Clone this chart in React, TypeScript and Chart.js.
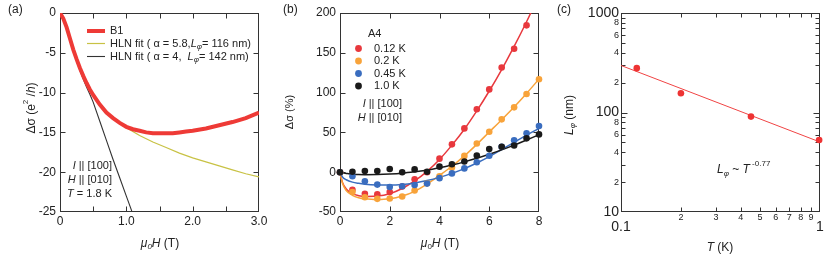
import React, { useEffect, useRef } from 'react';
import { Chart, registerables } from 'chart.js';
Chart.register(...registerables);

const FONT = '"Liberation Sans", Arial, Helvetica, sans-serif';
const TXT = '#222';
const FRAME = '#333';

// ---------- Panel (a) ----------
const aFieldB1 = [0, 0.05, 0.1, 0.15, 0.2, 0.25, 0.3, 0.35, 0.4, 0.45, 0.5, 0.6, 0.7, 0.8, 0.9, 1.0, 1.1, 1.2, 1.3, 1.4, 1.5, 1.6, 1.7, 1.8, 1.9, 2.0, 2.2, 2.4, 2.6, 2.8, 3.0];
const aB1 = [0, -0.7, -1.8, -3.2, -4.6, -5.8, -6.9, -7.9, -8.8, -9.6, -10.3, -11.5, -12.5, -13.2, -13.8, -14.3, -14.6, -14.8, -15.0, -15.1, -15.1, -15.1, -15.1, -15.0, -14.9, -14.8, -14.5, -14.1, -13.7, -13.2, -12.5];
const aFieldFit1 = [0, 0.05, 0.1, 0.15, 0.2, 0.25, 0.3, 0.35, 0.4, 0.45, 0.5, 0.6, 0.7, 0.8, 0.9, 1.0, 1.2, 1.4, 1.6, 1.8, 2.0, 2.2, 2.4, 2.6, 2.8, 3.0];
const aFit1 = [0, -0.7, -1.8, -3.2, -4.6, -5.8, -6.9, -7.9, -8.8, -9.6, -10.3, -11.5, -12.5, -13.3, -13.9, -14.4, -15.4, -16.2, -16.9, -17.6, -18.2, -18.7, -19.2, -19.7, -20.2, -20.6];
const aFieldFit2 = [0, 0.05, 0.1, 0.15, 0.2, 0.25, 0.3, 0.35, 0.4, 0.45, 0.5, 0.6, 0.7, 0.8, 0.9, 1.0, 1.1];
const aFit2 = [0, -0.7, -1.8, -3.2, -4.7, -6.0, -7.2, -8.3, -9.3, -10.2, -11.2, -13.6, -16.0, -18.4, -20.7, -23.0, -25.3];

// ---------- Panel (b) ----------
const bField = [0, 0.5, 1, 1.5, 2, 2.5, 3, 3.5, 4, 4.5, 5, 5.5, 6, 6.5, 7, 7.5, 8];
const b012K = [0, -22, -27, -27.7, -25, -18, -9, 0, 17, 35, 55, 79, 104, 131.5, 155, 184.5, null];
const b02K = [0, -25, -31.5, -33.5, -33, -30.5, -23, -14, -5, 6, 20.5, 36, 50.8, 66.4, 81.5, 98.3, 116.8];
const b045K = [0, -5, -11.5, -15.6, -18.5, -17.6, -16, -14.3, -7.5, -1.5, 4.8, 12.5, 20.6, 32, 40, 49, 58];
const b10K = [0, 0.5, 1.5, 1.5, 4, 0, 3.5, 0.5, 7, 10, 13.5, 21, 29, 32, 33.5, 42.5, 47.5];
const bFitField = [0, 0.1, 0.25, 0.5, 0.75, 1, 1.5, 2, 2.5, 3, 3.5, 4, 4.5, 5, 5.5, 6, 6.5, 7, 7.5, 8];
const bFit012K = [0, -13, -21, -27, -29.5, -30.5, -30, -27, -20.5, -11, 1, 16, 34, 54, 77, 102, 129, 158, 189, 222];
const bFit02K = [0, -14, -23, -29, -32, -33.5, -34.5, -33.5, -30, -24, -15, -4, 7.5, 20.5, 35, 50.5, 66, 82, 99, 117];
const bFit045K = [0, -6, -9.5, -12.5, -14, -15, -16, -16.2, -15.5, -13.5, -10.5, -6.5, -1.5, 4.5, 11.5, 19.5, 28.5, 37.5, 46.5, 55];
const bFit10K = [0, -0.8, -1.5, -2.5, -3, -3.2, -3, -2.3, -1.2, 0.5, 2.5, 5.5, 9, 13, 17.5, 22.5, 28, 34, 40.5, 47];
const bLabels = ['0.12 K', '0.2 K', '0.45 K', '1.0 K'];
const bColors = ['#e8383d', '#f8a33a', '#3a6dbf', '#1a1a1a'];

// ---------- Panel (c) ----------
const cT = [0.12, 0.2, 0.45, 0.99];
const cL = [279, 156, 91, 53];
const cFitT = [0.1, 1];
const cFitL = [297, 50.5];
const cXTicks = [0.1, 0.2, 0.3, 0.4, 0.5, 0.6, 0.7, 0.8, 0.9, 1];
const cXLabels = ['0.1', '2', '3', '4', '5', '6', '7', '8', '9', '1'];
const cYTicks = [10, 20, 30, 40, 50, 60, 70, 80, 90, 100, 200, 300, 400, 500, 600, 700, 800, 900, 1000];
const cYLabels = ['10', '2', '', '4', '', '6', '', '8', '', '100', '2', '', '4', '', '6', '', '8', '', '1000'];
const cMajorX = [0.1, 1];
const cMajorY = [10, 100, 1000];

type Run = { t: string; i?: boolean; s?: number; dy?: number };

function drawRuns(ctx: CanvasRenderingContext2D, runs: Run[], x: number, y: number, size: number, align: 'left' | 'center' | 'right') {
  ctx.save();
  ctx.textBaseline = 'middle';
  ctx.textAlign = 'left';
  ctx.fillStyle = TXT;
  const fontOf = (r: Run) => `${r.i ? 'italic ' : ''}${r.s ?? size}px ${FONT}`;
  let total = 0;
  const widths = runs.map((r) => {
    ctx.font = fontOf(r);
    const w = ctx.measureText(r.t).width;
    total += w;
    return w;
  });
  let cx = align === 'left' ? x : align === 'right' ? x - total : x - total / 2;
  runs.forEach((r, k) => {
    ctx.font = fontOf(r);
    ctx.fillText(r.t, cx, y + (r.dy ?? 0));
    cx += widths[k];
  });
  ctx.restore();
}

function drawRotated(ctx: CanvasRenderingContext2D, runs: Run[], cx: number, cy: number, size: number) {
  ctx.save();
  ctx.translate(cx, cy);
  ctx.rotate(-Math.PI / 2);
  drawRuns(ctx, runs, 0, 0, size, 'center');
  ctx.restore();
}

function framePlugin(id: string, tickLen: (axis: 'x' | 'y', v: number) => number, extra: (chart: any) => void) {
  return {
    id,
    beforeDatasetsDraw(chart: any) {
      const { ctx, chartArea } = chart;
      const L = Math.round(chartArea.left) + 0.5;
      const R = Math.round(chartArea.right) - 0.5;
      const T = Math.round(chartArea.top) + 0.5;
      const B = Math.round(chartArea.bottom) - 0.5;
      ctx.save();
      ctx.strokeStyle = FRAME;
      ctx.lineWidth = 1;
      ctx.beginPath();
      const xs = chart.scales.x;
      xs.ticks.forEach((t: any) => {
        const p = Math.round(xs.getPixelForValue(t.value)) + 0.5;
        if (p <= L + 1 || p >= R - 1) return;
        const len = tickLen('x', t.value);
        ctx.moveTo(p, B);
        ctx.lineTo(p, B - len);
        ctx.moveTo(p, T);
        ctx.lineTo(p, T + len);
      });
      const ys = chart.scales.y;
      ys.ticks.forEach((t: any) => {
        const p = Math.round(ys.getPixelForValue(t.value)) + 0.5;
        if (p <= T + 1 || p >= B - 1) return;
        const len = tickLen('y', t.value);
        ctx.moveTo(L, p);
        ctx.lineTo(L + len, p);
        ctx.moveTo(R, p);
        ctx.lineTo(R - len, p);
      });
      ctx.stroke();
      ctx.strokeRect(L, T, R - L, B - T);
      ctx.restore();
    },
    afterDraw(chart: any) {
      extra(chart);
    },
  };
}

function linAxis(min: number, max: number, step: number, fit: (s: any) => void, cb?: (v: number) => string, pad = 3) {
  return {
    type: 'linear' as const,
    min,
    max,
    ticks: {
      stepSize: step,
      autoSkip: false,
      maxRotation: 0,
      padding: pad,
      color: TXT,
      font: { family: FONT, size: 12 },
      ...(cb ? { callback: cb } : {}),
    },
    grid: { display: false, drawTicks: false },
    border: { display: false },
    title: { display: false },
    afterFit: fit,
  };
}

const xy = (xs: number[], ys: (number | null)[]) => xs.map((x, i) => ({ x, y: ys[i] }));

function makeA(canvas: HTMLCanvasElement) {
  return new Chart(canvas, {
    type: 'line',
    data: {
      datasets: [
        { data: xy(aFieldB1, aB1), borderColor: '#ee3a36', borderWidth: 4, pointRadius: 0, order: 0 },
        { data: xy(aFieldFit1, aFit1), borderColor: '#c8c244', borderWidth: 1.2, pointRadius: 0, order: 1 },
        { data: xy(aFieldFit2, aFit2), borderColor: '#333', borderWidth: 1.1, pointRadius: 0, order: 2 },
      ],
    },
    options: {
      responsive: false,
      animation: false,
      layout: { padding: { left: 0, top: 13, right: 21, bottom: 0 } },
      plugins: { legend: { display: false }, tooltip: { enabled: false } },
      scales: {
        x: linAxis(0, 3, 0.5, (s) => { s.height = 46; }, (v) => (v === 0 ? '0' : v % 1 === 0 ? v.toFixed(1) : ''), 2),
        y: linAxis(-25, 0, 5, (s) => { s.width = 60; }, undefined, 4),
      },
    },
    plugins: [
      framePlugin('frameA', () => 5, (chart) => {
        const ctx = chart.ctx as CanvasRenderingContext2D;
        drawRuns(ctx, [{ t: '(a)' }], 8, 10, 12, 'left');
        drawRotated(ctx, [{ t: 'Δσ (e' }, { t: '2', s: 8, dy: -6 }, { t: ' /' }, { t: 'h', i: true }, { t: ')' }], 32, 108, 12);
        drawRuns(ctx, [{ t: 'μ', i: true }, { t: '0', i: true, s: 8, dy: 3 }, { t: 'H', i: true }, { t: ' (T)' }], 160, 244, 12, 'center');
        // legend
        ctx.save();
        ctx.lineCap = 'butt';
        ctx.strokeStyle = '#ee3a36'; ctx.lineWidth = 4;
        ctx.beginPath(); ctx.moveTo(87, 31); ctx.lineTo(105, 31); ctx.stroke();
        ctx.strokeStyle = '#c8c244'; ctx.lineWidth = 1.2;
        ctx.beginPath(); ctx.moveTo(87, 43.5); ctx.lineTo(105, 43.5); ctx.stroke();
        ctx.strokeStyle = '#333'; ctx.lineWidth = 1.1;
        ctx.beginPath(); ctx.moveTo(87, 56.5); ctx.lineTo(105, 56.5); ctx.stroke();
        ctx.restore();
        drawRuns(ctx, [{ t: 'B1' }], 110, 31, 11, 'left');
        drawRuns(ctx, [{ t: 'HLN fit ( α = 5.8,' }, { t: 'L', i: true }, { t: 'φ', i: true, s: 8, dy: 3 }, { t: '= 116 nm)' }], 110, 43.5, 11, 'left');
        drawRuns(ctx, [{ t: 'HLN fit ( α = 4,  ' }, { t: 'L', i: true }, { t: 'φ', i: true, s: 8, dy: 3 }, { t: '= 142 nm)' }], 110, 56.5, 11, 'left');
        // conditions
        drawRuns(ctx, [{ t: 'I', i: true }, { t: ' || [100]' }], 112, 166, 11, 'right');
        drawRuns(ctx, [{ t: 'H', i: true }, { t: ' || [010]' }], 112, 180, 11, 'right');
        drawRuns(ctx, [{ t: 'T', i: true }, { t: ' = 1.8 K' }], 112, 193.5, 11, 'right');
      }),
    ],
  } as any);
}

function makeB(canvas: HTMLCanvasElement) {
  const pts = [b012K, b02K, b045K, b10K];
  const fits = [bFit012K, bFit02K, bFit045K, bFit10K];
  const datasets: any[] = [];
  pts.forEach((p, k) => {
    datasets.push({
      data: xy(bField, p), showLine: false, pointRadius: 3.3, pointBorderWidth: 0,
      pointBackgroundColor: bColors[k], borderColor: bColors[k], clip: false, order: 3 - k,
    });
  });
  fits.forEach((f, k) => {
    datasets.push({
      data: xy(bFitField, f), borderColor: bColors[k], borderWidth: 1.5, pointRadius: 0,
      cubicInterpolationMode: 'monotone', order: 7 - k,
    });
  });
  return new Chart(canvas, {
    type: 'line',
    data: { datasets },
    options: {
      responsive: false,
      animation: false,
      layout: { padding: { left: 0, top: 13, right: 16, bottom: 0 } },
      plugins: { legend: { display: false }, tooltip: { enabled: false } },
      scales: {
        x: linAxis(0, 8, 2, (s) => { s.height = 46; }, undefined, 2),
        y: linAxis(-50, 200, 50, (s) => { s.width = 60; }, undefined, 4),
      },
    },
    plugins: [
      framePlugin('frameB', () => 5, (chart) => {
        const ctx = chart.ctx as CanvasRenderingContext2D;
        drawRuns(ctx, [{ t: '(b)' }], 3, 10, 12, 'left');
        drawRotated(ctx, [{ t: 'Δσ (%)' }], 10, 112, 11);
        drawRuns(ctx, [{ t: 'μ', i: true }, { t: '0', s: 8, dy: 3 }, { t: 'H', i: true }, { t: ' (T)' }], 160, 244, 12, 'center');
        drawRuns(ctx, [{ t: 'A4' }], 88, 34, 11, 'left');
        const rows = [48.5, 61, 73.5, 86];
        bLabels.forEach((lab, k) => {
          ctx.save();
          ctx.fillStyle = bColors[k];
          ctx.beginPath(); ctx.arc(78.5, rows[k], 3.4, 0, Math.PI * 2); ctx.fill();
          ctx.restore();
          drawRuns(ctx, [{ t: lab }], 94, rows[k], 11, 'left');
        });
        drawRuns(ctx, [{ t: 'I', i: true }, { t: ' || [100]' }], 122, 104, 11, 'right');
        drawRuns(ctx, [{ t: 'H', i: true }, { t: ' || [010]' }], 122, 117.5, 11, 'right');
      }),
    ],
  } as any);
}

function makeC(canvas: HTMLCanvasElement) {
  const majorFont = { family: FONT, size: 14, lineHeight: 2.2 };
  const minorFont = { family: FONT, size: 9 };
  return new Chart(canvas, {
    type: 'line',
    data: {
      datasets: [
        { data: xy(cT, cL), showLine: false, pointRadius: 3.3, pointBorderWidth: 0, pointBackgroundColor: '#ee3333', borderColor: '#ee3333', clip: false, order: 0 },
        { data: xy(cFitT, cFitL), borderColor: '#f04444', borderWidth: 1, pointRadius: 0, order: 1 },
      ],
    },
    options: {
      responsive: false,
      animation: false,
      layout: { padding: { left: 0, top: 13, right: 10, bottom: 0 } },
      plugins: { legend: { display: false }, tooltip: { enabled: false } },
      scales: {
        x: {
          type: 'logarithmic', min: 0.1, max: 1,
          afterBuildTicks: (s: any) => { s.ticks = cXTicks.map((value) => ({ value })); },
          ticks: {
            autoSkip: false, maxRotation: 0, padding: 0, color: TXT,
            callback: (_v: number, i: number) => cXLabels[i],
            font: (c: any) => (c.tick && cMajorX.includes(c.tick.value) ? majorFont : minorFont),
          },
          grid: { display: false, drawTicks: false },
          border: { display: false },
          afterFit: (s: any) => { s.height = 46; },
        },
        y: {
          type: 'logarithmic', min: 10, max: 1000,
          afterBuildTicks: (s: any) => { s.ticks = cYTicks.map((value) => ({ value })); },
          ticks: {
            autoSkip: false, padding: 2, color: TXT,
            callback: (_v: number, i: number) => cYLabels[i],
            font: (c: any) => (c.tick && cMajorY.includes(c.tick.value) ? { family: FONT, size: 14 } : minorFont),
          },
          grid: { display: false, drawTicks: false },
          border: { display: false },
          afterFit: (s: any) => { s.width = 66; },
        },
      },
    },
    plugins: [
      framePlugin('frameC', (axis, v) => (axis === 'x' ? (cMajorX.includes(v) ? 6 : 4) : (cMajorY.includes(v) ? 6 : 4)), (chart) => {
        const ctx = chart.ctx as CanvasRenderingContext2D;
        drawRuns(ctx, [{ t: '(c)' }], 2, 10, 12, 'left');
        drawRotated(ctx, [{ t: 'L', i: true }, { t: 'φ', i: true, s: 8, dy: 3 }, { t: ' (nm)' }], 15, 115, 12);
        drawRuns(ctx, [{ t: 'T', i: true }, { t: ' (K)' }], 165, 248, 12, 'center');
        drawRuns(ctx, [{ t: 'L', i: true }, { t: 'φ', i: true, s: 8, dy: 4 }, { t: ' ~ ' }, { t: 'T', i: true }, { t: ' -0.77', s: 8, dy: -6 }], 162, 170, 12, 'left');
      }),
    ],
  } as any);
}

export default function App() {
  const refA = useRef<HTMLCanvasElement>(null);
  const refB = useRef<HTMLCanvasElement>(null);
  const refC = useRef<HTMLCanvasElement>(null);
  useEffect(() => {
    const charts = [makeA(refA.current!), makeB(refB.current!), makeC(refC.current!)];
    return () => charts.forEach((c) => c.destroy());
  }, []);
  const cs = (left: number, width: number): React.CSSProperties => ({ position: 'absolute', left, top: 0, width, height: 258 });
  return (
    <div style={{ position: 'fixed', left: 0, top: 0, width: 830, height: 258, background: '#fff', overflow: 'hidden' }}>
      <canvas ref={refA} width={280} height={258} style={cs(0, 280)} />
      <canvas ref={refB} width={275} height={258} style={cs(280, 275)} />
      <canvas ref={refC} width={275} height={258} style={cs(555, 275)} />
    </div>
  );
}
